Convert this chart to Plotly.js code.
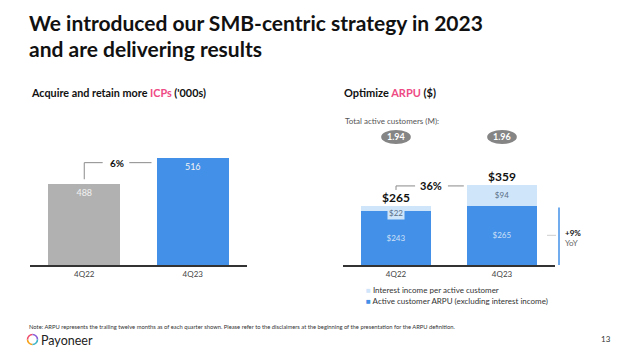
<!DOCTYPE html>
<html>
<head>
<meta charset="utf-8">
<script src="https://cdn.plot.ly/plotly-3.0.1.min.js"></script>
<style>html,body{margin:0;padding:0;background:#fff;}#chart{width:640px;height:355px;}</style>
</head>
<body>
<div id="chart"></div>
<script>
// ---- data ----
const quarters = ["4Q22", "4Q23"];
const icpValues = [488, 516];
const icpGrowth = "6%";
const arpuExInterest = [243, 265];
const interestIncome = [22, 94];
const arpuTotals = [265, 359];
const arpuGrowth = "36%";
const activeCustomers = ["1.94", "1.96"];
const arpuYoY = "+9%";

const FONT = "Lato, 'Noto Sans', sans-serif";
const W = 640, H = 355;
const px = x => x / W;
const py = y => 1 - y / H;

const BLUE = "#4290e8", LIGHT = "#cfe5fa", GRAY = "#b1b1b1", PINK = "#ee4a84";

const traces = [
  {
    type: "bar", x: quarters, y: icpValues, xaxis: "x", yaxis: "y",
    marker: {color: [GRAY, BLUE]}, width: 0.66,
    text: icpValues.map(String), textposition: "inside", insidetextanchor: "end",
    textangle: 0, constraintext: "none",
    textfont: {family: FONT, size: 9, color: "#f2f2f2"},
    hoverinfo: "skip", showlegend: false
  },
  {
    type: "bar", x: quarters, y: arpuExInterest, xaxis: "x2", yaxis: "y2",
    marker: {color: BLUE}, width: 0.66,
    text: arpuExInterest.map(v => "$" + v), textposition: "inside", insidetextanchor: "middle",
    textangle: 0, constraintext: "none",
    textfont: {family: FONT, size: 8, color: "#cfe0f7"},
    hoverinfo: "skip", showlegend: false
  },
  {
    type: "bar", x: quarters, y: interestIncome, xaxis: "x2", yaxis: "y2",
    marker: {color: LIGHT}, width: 0.66,
    text: interestIncome.map(v => v >= 50 ? "$" + v : ""), textposition: "inside", insidetextanchor: "middle",
    textangle: 0, constraintext: "none",
    textfont: {family: FONT, size: 8, color: "#5a6f86"},
    hoverinfo: "skip", showlegend: false
  }
];

// scales
const leftMin = 400, leftPxPerUnit = 0.922;
const rightPxPerUnit = 0.224;
const axisY = 265;

const annotations = [];
const shapes = [];

// Titles
annotations.push({xref: "paper", yref: "paper", x: px(27), y: py(22), xanchor: "left", yanchor: "middle",
  text: "We introduced our SMB-centric strategy in 2023", showarrow: false,
  font: {family: FONT, size: 21, color: "#111", weight: 700}});
annotations.push({xref: "paper", yref: "paper", x: px(27), y: py(48), xanchor: "left", yanchor: "middle",
  text: "and are delivering results", showarrow: false,
  font: {family: FONT, size: 21, color: "#111", weight: 700}});
annotations.push({xref: "paper", yref: "paper", x: px(29), y: py(92), xanchor: "left", yanchor: "middle",
  text: "Acquire and retain more <span style='color:" + PINK + "'>ICPs</span> ('000s)", showarrow: false,
  font: {family: FONT, size: 10.8, color: "#111", weight: 700}});
annotations.push({xref: "paper", yref: "paper", x: px(342), y: py(92), xanchor: "left", yanchor: "middle",
  text: "Optimize <span style='color:" + PINK + "'>ARPU</span> ($)", showarrow: false,
  font: {family: FONT, size: 11, color: "#111", weight: 700}});

// Left bracket
const lb = icpValues[1] - 5;
const line = {color: "#8a8a8a", width: 1};
shapes.push({type: "path", xref: "x", yref: "y",
  path: `M0,${icpValues[0] + 5} L0,${lb} L0.17,${lb}`, line});
shapes.push({type: "line", xref: "x", yref: "y", x0: 0.415, x1: 0.62, y0: lb, y1: lb, line});
annotations.push({xref: "x", yref: "y", x: 0.3, y: lb, text: icpGrowth, showarrow: false,
  font: {family: FONT, size: 10, color: "#111", weight: 700}});

// Right totals
arpuTotals.forEach((t, i) => {
  annotations.push({xref: "x2", yref: "y2", x: i, y: t, yanchor: "bottom", yshift: -1, text: "$" + t,
    showarrow: false, font: {family: FONT, size: 12, color: "#111", weight: 700}});
});
// small interest label
interestIncome.forEach((v, i) => {
  if (v < 50) {
    annotations.push({xref: "x2", yref: "y2", x: i, y: arpuExInterest[i] + v, yanchor: "top", yshift: 0,
      text: "$" + v, showarrow: false, bgcolor: LIGHT, borderpad: 1,
      font: {family: FONT, size: 8, color: "#5a6f86"}});
  }
});
// Right bracket
const rb = arpuTotals[1] - 6;
shapes.push({type: "path", xref: "x2", yref: "y2",
  path: `M0,${arpuTotals[0] + 70} L0,${rb} L0.18,${rb}`, line});
shapes.push({type: "line", xref: "x2", yref: "y2", x0: 0.49, x1: 0.64, y0: rb, y1: rb, line});
annotations.push({xref: "x2", yref: "y2", x: 0.33, y: rb, text: arpuGrowth, showarrow: false,
  font: {family: FONT, size: 11, color: "#111", weight: 700}});

// total active customers
annotations.push({xref: "paper", yref: "paper", x: px(343), y: py(121), xanchor: "left", yanchor: "middle",
  text: "Total active customers (M):", showarrow: false, font: {family: FONT, size: 8, color: "#555"}});
activeCustomers.forEach((c, i) => {
  shapes.push({type: "circle", xref: "x2", yref: "paper", x0: i - 0.14, x1: i + 0.14, y0: py(144), y1: py(130),
    fillcolor: "#858585", line: {width: 0}});
  annotations.push({xref: "x2", yref: "paper", x: i, y: py(137), text: c, showarrow: false,
    font: {family: FONT, size: 9, color: "#fff", weight: 700}});
});

// YoY marker
shapes.push({type: "line", xref: "paper", yref: "y2", x0: px(559), x1: px(559), y0: 0, y1: arpuExInterest[1] - 8,
  line: {color: BLUE, width: 1.5}});
shapes.push({type: "line", xref: "paper", yref: "y2", x0: px(547), x1: px(556), y0: arpuExInterest[1] / 2, y1: arpuExInterest[1] / 2,
  line: {color: "#cfcfcf", width: 1}});
annotations.push({xref: "paper", yref: "y2", x: px(563), y: arpuExInterest[1] / 2, xanchor: "left", yanchor: "middle", yshift: 2,
  text: arpuYoY, showarrow: false, font: {family: FONT, size: 8, color: "#111", weight: 700}});
annotations.push({xref: "paper", yref: "y2", x: px(563), y: arpuExInterest[1] / 2, xanchor: "left", yanchor: "middle", yshift: -8,
  text: "YoY", showarrow: false, font: {family: FONT, size: 8, color: "#666"}});

// legend
annotations.push({xref: "paper", yref: "paper", x: px(364), y: py(290), xanchor: "left", yanchor: "middle",
  text: "<span style='color:" + LIGHT + "'>■</span> Interest income per active customer", showarrow: false,
  font: {family: FONT, size: 8, color: "#333"}});
annotations.push({xref: "paper", yref: "paper", x: px(364), y: py(301), xanchor: "left", yanchor: "middle",
  text: "<span style='color:" + BLUE + "'>■</span> Active customer ARPU (excluding interest income)", showarrow: false,
  font: {family: FONT, size: 8, color: "#333"}});

// footnote
annotations.push({xref: "paper", yref: "paper", x: px(27), y: py(326), xanchor: "left", yanchor: "middle",
  text: "Note: ARPU represents the trailing twelve months as of each quarter shown. Please refer to the disclaimers at the beginning of the presentation for the ARPU definition.",
  showarrow: false, font: {family: FONT, size: 5.8, color: "#333"}});
annotations.push({xref: "paper", yref: "paper", x: px(39), y: py(340), xanchor: "left", yanchor: "middle",
  text: "Payoneer", showarrow: false, font: {family: FONT, size: 12.5, color: "#222"}});
annotations.push({xref: "paper", yref: "paper", x: px(613), y: py(339), xanchor: "right", yanchor: "middle",
  text: "13", showarrow: false, font: {family: FONT, size: 8, color: "#333"}});

// logo ring (four quarter arcs)
(function () {
  const cx = 32.5, cy = 339.5, r = 5, k = 0.5523 * r;
  const P = (x, y) => px(x).toFixed(5) + "," + py(y).toFixed(5);
  const arcs = [
    {c: "#f7a21b", pts: [[cx, cy + r], [cx - k, cy + r], [cx - r, cy + k], [cx - r, cy]]},
    {c: "#ef4a6a", pts: [[cx - r, cy], [cx - r, cy - k], [cx - k, cy - r], [cx, cy - r]]},
    {c: "#8a5cd8", pts: [[cx, cy - r], [cx + k, cy - r], [cx + r, cy - k], [cx + r, cy]]},
    {c: "#3fb6c8", pts: [[cx + r, cy], [cx + r, cy + k], [cx + k, cy + r], [cx, cy + r]]}
  ];
  arcs.forEach(a => {
    const p = a.pts;
    shapes.push({type: "path", xref: "paper", yref: "paper",
      path: `M${P(...p[0])} C${P(...p[1])} ${P(...p[2])} ${P(...p[3])}`,
      line: {color: a.c, width: 1.6}});
  });
})();

const axCommon = {type: "category", showgrid: false, zeroline: false, showline: true,
  linecolor: "#333", linewidth: 2, ticks: "", fixedrange: true,
  tickfont: {family: FONT, size: 8, color: "#444"}};

const layout = {
  width: W, height: H, margin: {l: 0, r: 0, t: 0, b: 0},
  paper_bgcolor: "#fff", plot_bgcolor: "rgba(0,0,0,0)",
  barmode: "stack", showlegend: false,
  xaxis: Object.assign({}, axCommon, {domain: [px(30), px(247)], range: [-0.5, 1.5], anchor: "y"}),
  yaxis: {domain: [py(axisY), py(140)], range: [leftMin, leftMin + (axisY - 140) / leftPxPerUnit],
    visible: false, fixedrange: true, anchor: "x"},
  xaxis2: Object.assign({}, axCommon, {domain: [px(343), px(555)], range: [-0.5, 1.5], anchor: "y2"}),
  yaxis2: {domain: [py(axisY), py(170)], range: [0, (axisY - 170) / rightPxPerUnit],
    visible: false, fixedrange: true, anchor: "x2"},
  annotations, shapes
};

Plotly.newPlot("chart", traces, layout, {displayModeBar: false, staticPlot: true});
</script>
</body>
</html>
